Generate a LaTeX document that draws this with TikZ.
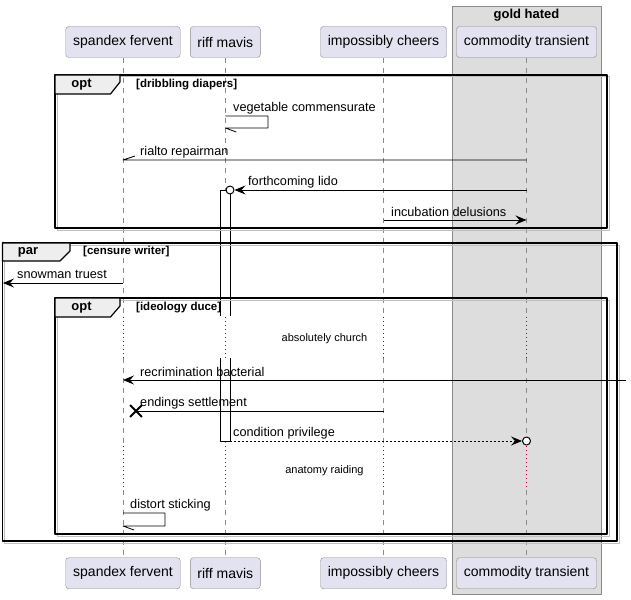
\documentclass[tikz,border=0pt]{standalone}
\usepackage{fontspec}
\setmainfont{Liberation Sans}
\usetikzlibrary{arrows.meta,shapes.misc}
\definecolor{partfill}{HTML}{E2E2F0}
\definecolor{linegray}{HTML}{8A8A8A}
\definecolor{groupfill}{HTML}{DDDDDD}
\definecolor{tabfill}{HTML}{EEEEEE}
\definecolor{delayred}{HTML}{A80036}
\begin{document}
\begin{tikzpicture}[x=1pt,y=-1pt,line join=round,font=\fontsize{12.7}{15}\selectfont,
	part/.style={draw=linegray,fill=partfill,rounded corners=3pt,minimum height=31pt,inner sep=0pt,font=\fontsize{14}{16}\selectfont},
	life/.style={draw=linegray,line width=0.7pt,dash pattern=on 5pt off 5pt},
	delayline/.style={draw=delayred,line width=1pt,dash pattern=on 1pt off 3pt},
	framebox/.style={draw=black,line width=1.4pt},
	frameshadow/.style={draw=black!25,line width=1pt},
	frametab/.style={fill=tabfill,draw=black,line width=1.2pt},
	msg/.style={draw=black,line width=0.8pt},
	tip/.style={-{Stealth[length=11pt,width=9pt,inset=4pt]}},
	endo/.style={circle,draw=black,fill=white,line width=1pt,minimum size=8pt,inner sep=0pt},
	lbl/.style={anchor=base west,inner sep=0pt},
	cond/.style={anchor=west,inner sep=0pt,font=\bfseries\fontsize{11.5}{13}\selectfont},
	kw/.style={inner sep=0pt,font=\bfseries\fontsize{13}{15}\selectfont},
	delaytxt/.style={inner sep=0pt,font=\fontsize{11}{13}\selectfont}]
	\useasboundingbox (0,0) rectangle (631,599);
	% box around commodity transient
	\filldraw[fill=groupfill,draw=linegray] (452.3,6) rectangle (600.7,594);
	\node[kw] (gold) at (526.5,15) {gold hated};
	% participants and lifelines
	\foreach \n/\x/\w/\t in {sf/123/114.5/spandex fervent,rm/225.3/70/riff mavis,ic/383.5/126/impossibly cheers,ct/526.5/140/commodity transient}{
		\node[part,minimum width=\w pt] (\n-top) at (\x,42) {\t};
		\node[part,minimum width=\w pt] (\n-bot) at (\x,573.2) {\t};
		\draw[life] (\n-top.south) -- (\x,317);
		\draw[delayline] (\x,317) -- (\x,358);
		\draw[life] (\x,358) -- (\x,446);
		\draw[delayline] (\x,446) -- (\x,490);
		\draw[life] (\x,490) -- (\n-bot.north);
	}
	% activation of riff mavis
	\fill[white] (220,190) rectangle (230,316) (220,358) rectangle (230,441);
	\draw[line width=0.8pt] (220,316) -- (220,190) -- (230,190) -- (230,316);
	\draw[line width=0.8pt] (220,358) -- (220,441) -- (230,441) -- (230,358);
	\coordinate (bar-end) at (230,441);
	% frames
	\draw[frameshadow] (57,77) rectangle (609,230);
	\draw[framebox] (55,75) rectangle (607,228);
	\filldraw[frametab] (55,75) -- (120,75) -- (120,82) -- (110.5,94) -- (55,94) -- cycle;
	\node[kw] (opt1) at (81.5,85) {opt};
	\node[cond] (opt1-cond) at (136,85) {[dribbling diapers]};
	\draw[frameshadow] (4.5,245) rectangle (619,543);
	\draw[framebox] (2.5,243) rectangle (617,541);
	\filldraw[frametab] (2.5,243) -- (70,243) -- (70,251) -- (60,261) -- (2.5,261) -- cycle;
	\node[kw] (par) at (28,252) {par};
	\node[cond] (par-cond) at (83,252) {[censure writer]};
	\draw[frameshadow] (57,300) rectangle (609,536);
	\draw[framebox] (55,298) rectangle (607,534);
	\filldraw[frametab] (55,298) -- (120,298) -- (120,306) -- (110.5,317) -- (55,317) -- cycle;
	\node[kw] (opt2) at (81.5,308) {opt};
	\node[cond] (opt2-cond) at (136,308) {[ideology duce]};
	% messages
	\draw[msg] (rm-top |- 0,116) -| (268,128) -- (rm-top |- 0,128) -- ++(11,4);
	\node[lbl] (m1) at (233,111) {vegetable commensurate};
	\draw[msg] (ct-top |- 0,160) -- (sf-top |- 0,160) -- ++(12,-4);
	\node[lbl] (m2) at (140,155) {rialto repairman};
	\node[endo] (lido-end) at (230,190) {};
	\draw[msg,tip] (ct-top |- 0,190) -- (lido-end);
	\node[lbl] (m3) at (248,185.5) {forthcoming lido};
	\draw[msg,tip] (ic-top |- 0,220) -- (ct-top |- 0,220);
	\node[lbl] (m4) at (391,216) {incubation delusions};
	\coordinate (left-edge) at (3,283);
	\draw[msg,tip] (sf-top |- 0,283) -- (left-edge);
	\node[lbl] (m5) at (17,278.5) {snowman truest};
	\node[delaytxt] (d1) at (324.5,338.5) {absolutely church};
	\coordinate (right-edge) at (626,380);
	\draw[msg,tip] (right-edge) -- (sf-top |- 0,380);
	\node[lbl] (m6) at (140,376) {recrimination bacterial};
	\node[draw=black,cross out,line width=1.8pt,minimum size=10pt,inner sep=0pt] (endings-x) at (136,411) {};
	\draw[msg] (ic-top |- 0,411) -- (endings-x.center);
	\node[lbl] (m7) at (140,406.5) {endings settlement};
	\node[endo] (priv-end) at (526.5,441) {};
	\draw[msg,dash pattern=on 2pt off 2pt,tip] (bar-end) -- (priv-end);
	\node[lbl] (m8) at (233,436.5) {condition privilege};
	\node[delaytxt] (d2) at (324.5,471) {anatomy raiding};
	\draw[msg] (sf-top |- 0,513) -| (165,526) -- (sf-top |- 0,526) -- ++(11,4);
	\node[lbl] (m9) at (130,508.5) {distort sticking};
\end{tikzpicture}
\end{document}
